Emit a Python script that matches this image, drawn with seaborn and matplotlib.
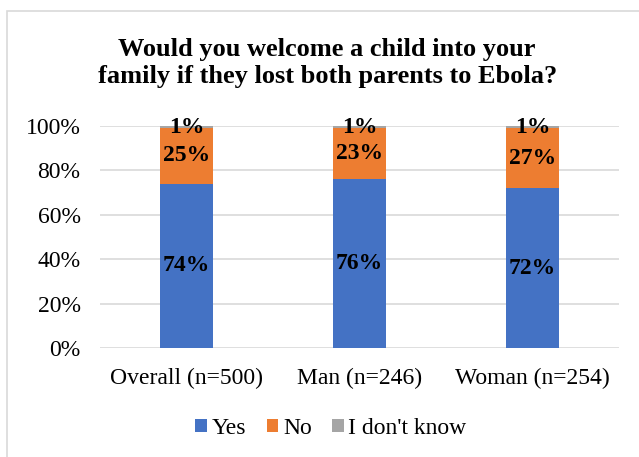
import matplotlib
matplotlib.use("Agg")
import matplotlib.pyplot as plt
import seaborn as sns
import pandas as pd
from matplotlib.patches import Rectangle, Patch

categories = ["Overall (n=500)", "Man (n=246)", "Woman (n=254)"]
yes = [74, 76, 72]
no = [25, 23, 27]
dont_know = [1, 1, 1]
series_names = ["Yes", "No", "I don't know"]
colors = ["#4472C4", "#ED7D31", "#A5A5A5"]
title = "Would you welcome a child into your\nfamily if they lost both parents to Ebola?"

sns.set_theme(style="white")
plt.rcParams['font.family'] = ['Liberation Serif', 'DejaVu Serif']
plt.rcParams['text.color'] = 'black'

df = pd.DataFrame({"cat": categories, "yes": yes, "no": no, "dk": dont_know})
df["c_yes"] = df["yes"]
df["c_no"] = df["yes"] + df["no"]
df["c_dk"] = df["yes"] + df["no"] + df["dk"]

fig = plt.figure(figsize=(6.39, 4.57), dpi=100)
ax = fig.add_axes([0.1565, 0.2385, 0.8122, 0.4858])

for col, c in zip(["c_dk", "c_no", "c_yes"], colors[::-1]):
    sns.barplot(data=df, x="cat", y=col, color=c, width=0.31, ax=ax,
                saturation=1, edgecolor="none", linewidth=0, zorder=3)

ax.set_ylim(0, 100)
ax.set_xlim(-0.5, 2.5)
ax.set_yticks([0, 20, 40, 60, 80, 100])
ax.set_yticklabels([f"{v}%" for v in [0, 20, 40, 60, 80, 100]])
ax.yaxis.grid(True, color="#d9d9d9", linewidth=1.2, zorder=0)
ax.set_axisbelow(True)
for s in ax.spines.values():
    s.set_visible(False)
ax.tick_params(axis='both', labelsize=17, length=0, colors="black")
ax.tick_params(axis='y', pad=14)
ax.tick_params(axis='x', pad=14)
ax.set_xlabel("")
ax.set_ylabel("")

for i in range(len(categories)):
    y, n, d = yes[i], no[i], dont_know[i]
    kw = dict(ha="center", va="center", fontsize=17, fontweight="bold", color="black", zorder=5)
    ax.text(i, y / 2, f"{y}%", **kw)
    ax.text(i, y + n / 2, f"{n}%", **kw)
    ax.text(i, y + n + d / 2, f"{d}%", **kw)

fig.text(0.512, 0.862, title, ha="center", va="center", fontsize=19,
         fontweight="bold", linespacing=1.22, color="black")

handles = [Patch(facecolor=c, edgecolor="none") for c in colors]
fig.legend(handles, series_names, loc="center", bbox_to_anchor=(0.518, 0.063),
           ncol=3, frameon=False, fontsize=17, handlelength=0.5, handleheight=0.5,
           handletextpad=0.2, columnspacing=0.85)

fig.patches.append(Rectangle((7 / 639, -0.1), 1.2, 1 - 11 / 457 + 0.1,
                             transform=fig.transFigure, fill=False,
                             edgecolor="#d9d9d9", linewidth=1.2))

fig.savefig("out.png", dpi=100)
